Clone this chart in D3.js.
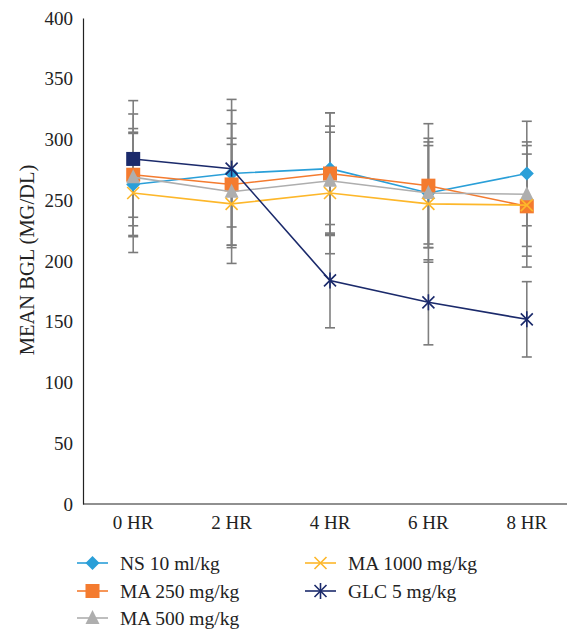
<!DOCTYPE html>
<html>
<head>
<meta charset="utf-8">
<script src="https://cdn.jsdelivr.net/npm/d3@7"></script>
<style>
  body { margin: 0; background: #fff; }
  svg text { font-family: "Liberation Serif", "DejaVu Serif", serif; }
</style>
</head>
<body>
<div id="chart"></div>
<script>
// categories and values
var hours = ["0 HR", "2 HR", "4 HR", "6 HR", "8 HR"];
var yTicks = [0, 50, 100, 150, 200, 250, 300, 350, 400];

var nsMean = [263, 272, 276, 256, 272];
var nsErr = [43, 61, 46, 45, 43];
var ma250Mean = [271, 263, 272, 262, 245];
var ma250Err = [50, 50, 50, 51, 50];
var ma500Mean = [269, 257, 266, 256, 255];
var ma500Err = [40, 44, 45, 42, 43];
var ma1000Mean = [256, 247, 256, 247, 246];
var ma1000Err = [49, 49, 50, 48, 42];
var glcMean = [284, 276, 184, 166, 152];
var glcErr = [48, 48, 39, 35, 31];

var seriesNames = ["NS 10 ml/kg", "MA 250 mg/kg", "MA 500 mg/kg", "MA 1000 mg/kg", "GLC 5 mg/kg"];

var series = [
  { name: seriesNames[0], mean: nsMean, err: nsErr, color: "#2a9fd8", marker: "diamond" },
  { name: seriesNames[1], mean: ma250Mean, err: ma250Err, color: "#f47b2f", marker: "square" },
  { name: seriesNames[2], mean: ma500Mean, err: ma500Err, color: "#aeaeae", marker: "triangle" },
  { name: seriesNames[3], mean: ma1000Mean, err: ma1000Err, color: "#fdb72a", marker: "x" },
  { name: seriesNames[4], mean: glcMean, err: glcErr, color: "#1b2a6b", marker: "star" }
];

var svgWidth = 567;
var svgHeight = 631;

var svg = d3.select("#chart").append("svg")
  .attr("width", svgWidth)
  .attr("height", svgHeight);

var xScale = d3.scaleBand()
  .domain(hours)
  .range([84, 576])
  .padding(0);

var yScale = d3.scaleLinear()
  .domain([0, 400])
  .range([504, 18]);

var cx = function(h) { return xScale(h) + xScale.bandwidth() / 2; };

// y axis
var yAxis = d3.axisLeft(yScale)
  .tickValues(yTicks)
  .tickSizeInner(0)
  .tickSizeOuter(0)
  .tickPadding(10);

var gy = svg.append("g")
  .attr("transform", "translate(83,0)")
  .call(yAxis);
gy.select(".domain").attr("stroke", "#222").attr("stroke-width", 1.2);
gy.selectAll("text").attr("font-size", "19px").attr("fill", "#222")
  .style("font-family", "Liberation Serif, serif");

// x axis
var xAxis = d3.axisBottom(xScale).tickSizeInner(0).tickSizeOuter(0);
var gx = svg.append("g")
  .attr("transform", "translate(0,504)")
  .call(xAxis);
gx.select(".domain").attr("d", "M83,0H567").attr("stroke", "#222").attr("stroke-width", 1.2);
gx.selectAll("text")
  .attr("y", 25)
  .attr("dy", 0)
  .attr("font-size", "19px")
  .attr("fill", "#222")
  .style("font-family", "Liberation Serif, serif");

// axis title
svg.append("text")
  .attr("transform", "translate(34,260) rotate(-90)")
  .attr("text-anchor", "middle")
  .attr("font-size", "20.5px")
  .attr("fill", "#222")
  .text("MEAN BGL (MG/DL)");

// error bars
var errG = svg.append("g");
series.forEach(function(s) {
  hours.forEach(function(h, i) {
    var x = cx(h);
    var hi = yScale(s.mean[i] + s.err[i]);
    var lo = yScale(s.mean[i] - s.err[i]);
    errG.append("line").attr("x1", x).attr("x2", x).attr("y1", hi).attr("y2", lo)
      .attr("stroke", "#808080").attr("stroke-width", 1.6);
    [hi, lo].forEach(function(y) {
      errG.append("line").attr("x1", x - 5).attr("x2", x + 5).attr("y1", y).attr("y2", y)
        .attr("stroke", "#7a7a7a").attr("stroke-width", 1.6);
    });
  });
});

function drawMarker(g, type, x, y, color) {
  if (type === "diamond") {
    g.append("path").attr("d", "M" + x + "," + (y - 7) + "L" + (x + 7) + "," + y + "L" + x + "," + (y + 7) + "L" + (x - 7) + "," + y + "Z")
      .attr("fill", color);
  } else if (type === "square") {
    g.append("rect").attr("x", x - 7).attr("y", y - 7).attr("width", 14).attr("height", 14)
      .attr("fill", color);
  } else if (type === "triangle") {
    g.append("path").attr("d", "M" + x + "," + (y - 8) + "L" + (x + 7) + "," + (y + 6) + "L" + (x - 7) + "," + (y + 6) + "Z")
      .attr("fill", color);
  } else if (type === "x" || type === "star") {
    g.append("path").attr("d", "M" + (x - 6) + "," + (y - 6) + "L" + (x + 6) + "," + (y + 6) + "M" + (x + 6) + "," + (y - 6) + "L" + (x - 6) + "," + (y + 6))
      .attr("stroke", color).attr("stroke-width", 1.6).attr("fill", "none");
    if (type === "star") {
      g.append("path").attr("d", "M" + x + "," + (y - 8) + "L" + x + "," + (y + 8))
        .attr("stroke", color).attr("stroke-width", 1.6);
    }
  }
}

var line = d3.line()
  .x(function(d) { return cx(d.h); })
  .y(function(d) { return yScale(d.v); });

series.forEach(function(s) {
  var g = svg.append("g");
  var pts = hours.map(function(h, i) { return { h: h, v: s.mean[i] }; });
  g.append("path").datum(pts)
    .attr("d", line)
    .attr("fill", "none")
    .attr("stroke", s.color)
    .attr("stroke-width", 1.6);
  pts.forEach(function(p, i) {
    // GLC first point is drawn as a square in the source
    var m = (s.marker === "star" && i === 0) ? "square" : s.marker;
    drawMarker(g, m, cx(p.h), yScale(p.v), s.color);
  });
});

// legend
var legendPos = [
  { x: 77, y: 563 }, { x: 77, y: 591 }, { x: 77, y: 618 },
  { x: 305, y: 563 }, { x: 305, y: 591 }
];
series.forEach(function(s, i) {
  var p = legendPos[i];
  var g = svg.append("g");
  g.append("line").attr("x1", p.x).attr("x2", p.x + 31).attr("y1", p.y).attr("y2", p.y)
    .attr("stroke", s.color).attr("stroke-width", 1.6);
  drawMarker(g, s.marker, p.x + 15.5, p.y, s.color);
  g.append("text")
    .attr("x", p.x + 43)
    .attr("y", p.y + 7)
    .attr("font-size", "19.5px")
    .attr("fill", "#222")
    .text(s.name);
});
</script>
</body>
</html>
